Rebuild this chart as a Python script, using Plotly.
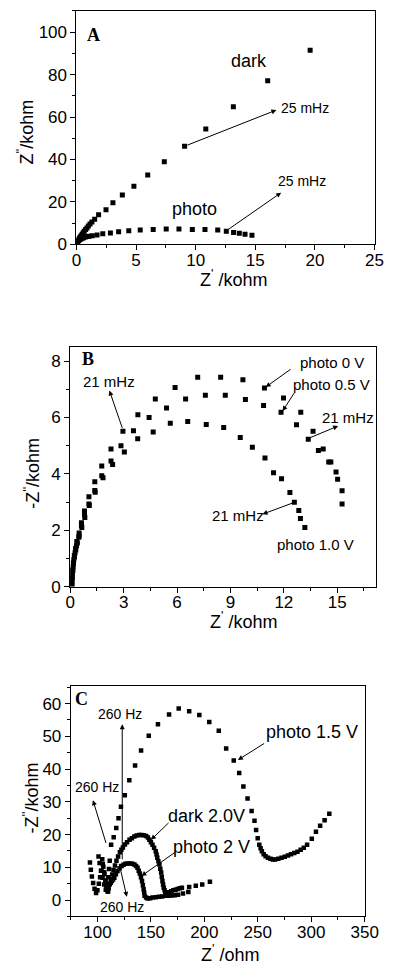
import plotly.graph_objects as go

# ---------------- Panel A data (kohm) ----------------
a_dark_x = [0.03, 0.06, 0.1, 0.15, 0.2, 0.26, 0.32, 0.4, 0.48, 0.57, 0.66, 0.77, 0.88, 1.0, 1.14, 1.3,
            1.53, 1.86, 2.48, 3.06, 3.85, 4.82, 5.98, 7.37, 9.07, 10.85, 13.16, 16.04, 19.6]
a_dark_y = [0.4, 0.9, 1.4, 1.9, 2.4, 2.9, 3.5, 4.1, 4.8, 5.5, 6.2, 7.0, 7.8, 8.7, 9.6, 10.6,
            11.9, 14.0, 16.3, 19.7, 23.3, 27.4, 32.7, 38.9, 46.2, 54.4, 64.8, 77.1, 91.5]
a_photo_x = [0.02, 0.05, 0.09, 0.13, 0.2, 0.28, 0.37, 0.48, 0.6, 0.75, 0.9, 1.07, 1.33, 1.73, 2.21, 2.85,
             3.54, 4.39, 5.35, 6.44, 7.53, 8.6, 9.72, 10.78, 11.85, 12.57, 13.18, 13.66, 14.14, 14.72]
a_photo_y = [0.3, 0.8, 1.2, 1.6, 2.0, 2.3, 2.6, 2.9, 3.2, 3.5, 3.7, 3.9, 4.1, 4.5, 5.0, 5.4,
             6.0, 6.5, 6.8, 7.1, 7.3, 7.3, 7.1, 7.0, 6.85, 6.2, 5.6, 5.3, 4.8, 4.37]

# ---------------- Panel B data (kohm) ----------------
b_0v_x = [0.09, 0.11, 0.14, 0.18, 0.23, 0.3, 0.37, 0.5, 0.63, 0.8, 1.05, 1.38, 1.77, 2.29, 2.96, 3.8,
          4.78, 5.89, 7.16, 8.45, 9.7, 10.91, 11.98, 12.95, 13.64, 14.21, 14.64, 15.02, 15.27]
b_0v_y = [0.1, 0.35, 0.6, 0.85, 1.1, 1.35, 1.6, 1.9, 2.27, 2.68, 3.19, 3.72, 4.28, 4.88, 5.51, 6.1,
          6.66, 7.07, 7.43, 7.43, 7.34, 7.05, 6.69, 6.19, 5.51, 4.88, 4.42, 3.81, 3.4]
b_05v_x = [0.1, 0.12, 0.16, 0.2, 0.27, 0.35, 0.48, 0.63, 0.8, 1.05, 1.38, 1.77, 2.29, 2.85, 3.55,
           4.43, 5.41, 6.48, 7.59, 8.71, 9.84, 10.86, 11.84, 12.71, 13.37, 13.94, 14.52, 14.93, 15.27]
b_05v_y = [0.2, 0.45, 0.7, 0.95, 1.2, 1.45, 1.75, 2.17, 2.54, 2.93, 3.41, 3.93, 4.46, 5.0, 5.53,
           6.0, 6.34, 6.66, 6.79, 6.79, 6.64, 6.43, 6.19, 5.74, 5.23, 4.83, 4.42, 4.07, 2.93]
b_1v_x = [0.1, 0.11, 0.14, 0.18, 0.24, 0.31, 0.4, 0.5, 0.65, 0.82, 1.07, 1.4, 1.84, 2.38, 3.04, 3.79,
          4.66, 5.62, 6.6, 7.64, 8.62, 9.55, 10.23, 10.94, 11.42, 11.87, 12.34, 12.59, 12.84, 12.93, 13.18]
b_1v_y = [0.05, 0.3, 0.55, 0.8, 1.05, 1.3, 1.55, 1.8, 2.1, 2.45, 2.88, 3.35, 3.86, 4.33, 4.78, 5.25,
          5.49, 5.8, 5.86, 5.75, 5.65, 5.29, 4.95, 4.56, 4.04, 3.83, 3.34, 2.99, 2.7, 2.42, 2.1]

# ---------------- Panel C data (Z' in ohm, -Z'' in kohm) ----------------
c_p15_x = [101, 102, 103.3, 104.8, 106.3, 107.8, 109, 110, 110.8, 111.5, 112.8, 115.2, 117.6, 119.7, 122,
           125.6, 129.8, 135.2, 140.8, 148, 156.6, 167, 176, 185.8, 195.3, 204.6, 213.5, 220.4, 227.5,
           232.6, 236.5, 240.4, 244.2, 246.9, 248.4, 249.9, 251.4, 252.6, 253.8, 255.5, 257.3, 259.5,
           261.8, 264, 266.2, 269.2, 272.2, 275.2, 278.2, 281.1, 284.1, 287.1, 290.1, 293, 296.1,
           300.5, 304.4, 308.3, 312.5, 316.9]
c_p15_y = [13.3, 11.3, 9.0, 6.8, 4.8, 3.2, 4.5, 7.0, 9.5, 12.0, 16.9, 19.2, 22.0, 25.0, 28.5,
           32.0, 36.6, 41.1, 45.7, 50.2, 53.7, 56.7, 58.5, 57.7, 56.5, 54.4, 51.7, 46.3, 42.6,
           38.8, 34.7, 31.0, 27.2, 24.2, 21.4, 18.9, 16.9, 15.8, 14.9, 14.0, 13.4, 12.9,
           12.6, 12.4, 12.4, 12.6, 12.9, 13.2, 13.6, 14.0, 14.4, 14.8, 15.4, 16.0, 16.9,
           18.7, 20.9, 22.7, 24.4, 26.4]
c_d20_x = [104.5, 105.5, 106.5, 107.5, 108.5, 109.5, 110.5, 111.5, 112.6, 113.8, 115, 116.4, 117.8, 119.3,
           121, 122.4, 123.8, 125.7, 127.7, 130, 132.2, 134.5, 136.7, 139, 141.1, 143.4, 145.6, 147.2,
           148.6, 150, 151.5, 153, 154.5, 155.3, 156, 157, 158, 158.8, 159.6, 160.2, 160.8, 161.4, 162,
           162.8, 163.5, 165, 167, 169, 171, 173, 175, 177, 179, 185.8, 192, 198, 205.2]
c_d20_y = [12.5, 10.2, 8.0, 5.8, 3.8, 2.6, 3.6, 5.0, 6.4, 7.8, 9.2, 10.6, 12.0, 13.3,
           14.6, 15.4, 16.1, 17.0, 17.7, 18.4, 18.9, 19.4, 19.7, 19.9, 19.9, 19.8, 19.6, 19.1,
           18.4, 17.7, 16.9, 16.0, 14.9, 13.9, 12.9, 11.9, 10.9, 9.6, 8.4, 7.1, 5.8, 4.8, 3.8,
           3.0, 2.4, 2.2, 2.4, 2.7, 3.0, 3.2, 3.4, 3.6, 3.8, 4.0, 4.4, 4.8, 5.6]
c_p2_x = [93, 93.8, 94.8, 96, 97.3, 98.7, 100, 101.3, 102.5, 103.8, 105, 106.3, 107.5, 108.8, 110,
          111.3, 112.4, 113.5, 114.6, 115.8, 117.3, 118.8, 120.7, 122.6, 124.4, 126.2, 128.5, 130.7,
          132.7, 134.6, 136.1, 137.5, 138.6, 139.6, 140.7, 141.7, 142.5, 143.2, 143.7, 144.1, 145.5,
          147, 149.3, 151.5, 154.5, 157.5, 160.5, 163.5, 166.5, 169.4, 172.4, 175.4, 180, 185]
c_p2_y = [11.5, 9.3, 7.2, 5.2, 3.5, 2.2, 3.0, 5.0, 7.0, 9.0, 11.0, 8.5, 6.0, 3.8, 2.6,
          4.8, 5.3, 5.8, 6.3, 6.8, 7.9, 8.9, 9.7, 10.4, 10.8, 11.1, 11.2, 11.2,
          11.1, 10.9, 10.4, 9.9, 9.0, 8.1, 7.0, 5.8, 4.5, 3.3, 2.3, 1.3, 0.8,
          0.5, 0.6, 0.8, 0.9, 1.0, 1.1, 1.3, 1.3, 1.4, 1.5, 1.6, 2.0, 2.5]

FONT = "Arial, Liberation Sans, sans-serif"
SERIF = "Times New Roman, Liberation Serif, serif"

fig = go.Figure()

def add_series(xs, ys, xa, ya, size):
    fig.add_trace(go.Scatter(x=xs, y=ys, mode="markers", xaxis=xa, yaxis=ya,
                             marker=dict(symbol="square", size=size, color="black",
                                         line=dict(width=0)),
                             showlegend=False, hoverinfo="skip"))

add_series(a_dark_x, a_dark_y, "x", "y", 5)
add_series(a_photo_x, a_photo_y, "x", "y", 5)
add_series(b_0v_x, b_0v_y, "x2", "y2", 5)
add_series(b_05v_x, b_05v_y, "x2", "y2", 5)
add_series(b_1v_x, b_1v_y, "x2", "y2", 5)
add_series(c_p15_x, c_p15_y, "x3", "y3", 4.5)
add_series(c_d20_x, c_d20_y, "x3", "y3", 4.5)
add_series(c_p2_x, c_p2_y, "x3", "y3", 4.5)

W, H = 399, 973

def ax(rng, dtick, mdtick, domain, anchor, standoff=0):
    return dict(range=rng, dtick=dtick, domain=domain, anchor=anchor,
                showline=True, linecolor="black", linewidth=1, mirror=True,
                ticks="outside", ticklen=5, tickwidth=1, tickcolor="black",
                minor=dict(ticks="outside", ticklen=3, tickwidth=1, tickcolor="black", dtick=mdtick),
                showgrid=False, zeroline=False, ticklabelstandoff=standoff,
                tickfont=dict(family=FONT, size=17, color="black"))

def xd(l, r):
    return [l / W, r / W]

def yd(t, b):
    return [1 - b / H, 1 - t / H]

fig.update_layout(
    width=W, height=H, margin=dict(l=0, r=0, t=0, b=0),
    paper_bgcolor="white", plot_bgcolor="white", showlegend=False,
    xaxis=ax([0, 25], 5, 2.5, xd(75, 388), "y", -5),
    yaxis=ax([0, 110], 20, 10, yd(11, 247), "x"),
    xaxis2=ax([0, 17.2], 3, 1.5, xd(68.5, 390), "y2", -5),
    yaxis2=ax([0, 8.5], 2, 1, yd(350.7, 592.7), "x2"),
    xaxis3=ax([75, 350], 50, 25, xd(69, 377.7), "y3", -5),
    yaxis3=ax([-5, 65.5], 10, 5, yd(692.7, 926), "x3"),
)

ann = []

def txt(text, x, y, xref, yref, size, family=FONT, bold=False, angle=0, xanchor="center"):
    t = f"<b>{text}</b>" if bold else text
    ann.append(dict(text=t, x=x, y=y, xref=xref, yref=yref, showarrow=False,
                    font=dict(family=family, size=size, color="black"),
                    textangle=angle, xanchor=xanchor, yanchor="middle"))

def arrow(hx, hy, tx, ty, xr, yr):
    ann.append(dict(text="", x=hx, y=hy, ax=tx, ay=ty, xref=xr, yref=yr, axref=xr, ayref=yr,
                    showarrow=True, arrowhead=2, arrowsize=1, arrowwidth=1, arrowcolor="black"))

def ptxt(text, xp, yp, size, angle=0):
    ann.append(dict(text=text, x=xp / W, y=1 - yp / H, xref="paper", yref="paper", showarrow=False,
                    font=dict(family=FONT, size=size, color="black"), textangle=angle,
                    xanchor="center", yanchor="middle"))

# Axis titles
ptxt("Z<sup>'</sup> /kohm", 240, 281, 18)
ptxt("Z<sup>''</sup>/kohm", 22, 133, 18, -90)
ptxt("Z<sup>'</sup> /kohm", 250, 627, 18)
ptxt("-Z<sup>''</sup>/kohm", 28, 478, 18, -90)
ptxt("Z<sup>'</sup> /ohm", 236, 963, 18)
ptxt("-Z<sup>''</sup>/kohm", 28, 806, 18, -90)

# Panel A
txt("A", 1.4, 98.8, "x", "y", 18, SERIF, bold=True)
txt("dark", 14.46, 86.4, "x", "y", 18)
txt("photo", 9.9, 16.7, "x", "y", 18)
txt("25 mHz", 19.2, 64.4, "x", "y", 14)
txt("25 mHz", 18.9, 29.8, "x", "y", 14)
arrow(16.77, 63.3, 9.18, 46.5, "x", "y")
arrow(17.17, 24.4, 12.63, 6.67, "x", "y")

# Panel B
txt("B", 0.98, 8.06, "x2", "y2", 18, SERIF, bold=True)
txt("photo 0 V", 14.7, 7.96, "x2", "y2", 15)
txt("photo 0.5 V", 14.7, 7.16, "x2", "y2", 15)
txt("21 mHz", 15.6, 5.99, "x2", "y2", 15)
txt("21 mHz", 2.2, 7.28, "x2", "y2", 15)
txt("21 mHz", 9.43, 2.51, "x2", "y2", 15)
txt("photo 1.0 V", 13.8, 1.5, "x2", "y2", 15)
arrow(10.98, 7.08, 12.46, 7.75, "x2", "y2")
arrow(11.93, 6.23, 12.64, 6.93, "x2", "y2")
arrow(15.05, 5.7, 13.27, 5.23, "x2", "y2")
arrow(2.2, 6.96, 2.95, 5.58, "x2", "y2")
arrow(10.8, 2.57, 12.59, 2.99, "x2", "y2")

# Panel C
txt("C", 85.4, 61.4, "x3", "y3", 18, SERIF, bold=True)
txt("260 Hz", 120.9, 56.9, "x3", "y3", 14)
txt("260 Hz", 99.4, 34.5, "x3", "y3", 14)
txt("260 Hz", 122.6, -2.0, "x3", "y3", 14)
txt("photo 1.5 V", 300.5, 51.4, "x3", "y3", 18)
txt("dark 2.0V", 202.2, 25.7, "x3", "y3", 18)
txt("photo 2 V", 206.7, 16.2, "x3", "y3", 18)
arrow(123.2, 53.7, 123.2, 12.0, "x3", "y3")
arrow(95.8, 30.5, 108.4, 17.0, "x3", "y3")
arrow(127.5, 1.0, 120.0, 11.5, "x3", "y3")
arrow(231.4, 42.8, 257.3, 48.1, "x3", "y3")
arrow(150.1, 18.4, 167.9, 24.0, "x3", "y3")
arrow(141.1, 7.35, 173.9, 14.9, "x3", "y3")

fig.update_layout(annotations=ann)
fig.write_html("out.html")
